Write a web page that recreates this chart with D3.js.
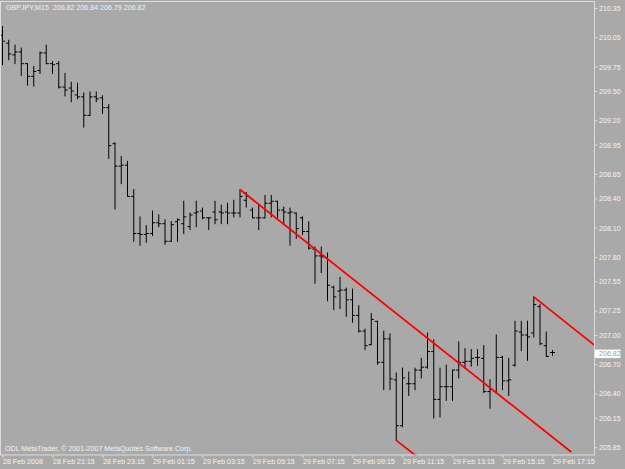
<!DOCTYPE html>
<html><head><meta charset="utf-8">
<script src="https://cdn.jsdelivr.net/npm/d3@7"></script>
<style>
html,body{margin:0;padding:0;background:#a9a9a9;overflow:hidden}
svg{display:block}
text{font-family:"Liberation Sans",Arial,sans-serif;font-size:7.1px}
</style></head><body>
<svg id="c" width="625" height="469"></svg>
<script>
// ---- data ----
const symbol = "GBPJPY,M15";
const headerOHLC = ["206.82", "206.84", "206.79", "206.82"];
const copyright = "ODL MetaTrader, © 2001-2007 MetaQuotes Software Corp.";
const firstBarTime = "2008-02-28 19:15";
const barMinutes = 15;

const opens = [210.07,209.99,209.87,209.90,209.78,209.65,209.71,209.89,209.78,209.78,
209.54,209.53,209.46,209.44,209.25,209.44,209.43,209.33,208.96,208.73,
208.74,208.42,208.04,208.03,208.04,208.15,208.14,207.96,208.16,208.14,
208.11,208.25,208.27,208.20,208.26,208.26,208.26,208.25,208.25,208.38,
208.28,208.20,208.20,208.35,208.37,208.28,208.25,208.25,208.20,208.06,
207.88,207.81,207.79,207.49,207.45,207.46,207.36,207.20,207.04,206.90,
207.14,206.72,206.96,206.54,206.07,206.50,206.50,206.64,206.67,206.83,
206.34,206.47,206.47,206.64,206.72,206.73,206.77,206.76,206.42,206.42,
206.77,206.53,206.69,207.03,207.00,207.02,207.29,206.89,206.82];
const highs = [210.16,210.02,209.97,209.94,209.78,209.75,209.90,209.97,209.80,209.80,
209.68,209.59,209.58,209.48,209.49,209.49,209.45,209.36,208.97,208.83,
208.78,208.49,208.21,208.12,208.27,208.23,208.18,208.16,208.19,208.37,
208.25,208.37,208.30,208.20,208.37,208.33,208.35,208.38,208.49,208.46,
208.30,208.33,208.43,208.43,208.37,208.31,208.30,208.25,208.21,208.16,
207.90,207.90,207.84,207.50,207.59,207.48,207.47,207.30,207.06,207.22,
207.14,207.04,207.01,206.61,206.66,206.62,206.66,206.76,207.02,206.95,
206.66,206.69,206.64,206.93,206.86,206.85,206.85,206.89,206.54,207.00,
206.78,206.76,207.14,207.14,207.14,207.39,207.31,207.03,206.84];
const lows = [209.77,209.82,209.78,209.66,209.56,209.55,209.68,209.78,209.68,209.53,
209.45,209.39,209.42,209.13,209.25,209.39,209.27,208.81,208.29,208.55,
208.42,207.96,207.92,207.95,208.02,208.11,207.93,207.96,207.96,208.04,
208.08,208.11,208.19,208.08,208.14,208.14,208.14,208.21,208.21,208.31,
208.20,208.08,208.20,208.21,208.20,208.13,207.92,207.99,208.03,207.88,
207.53,207.64,207.35,207.26,207.27,207.19,207.13,207.03,206.85,206.90,
206.70,206.44,206.44,205.92,206.06,206.38,206.44,206.56,206.66,206.15,
206.16,206.33,206.33,206.56,206.66,206.68,206.69,206.41,206.25,206.40,
206.44,206.38,206.68,206.84,206.74,206.98,206.90,206.78,206.79];
const closes = [210.01,209.88,209.90,209.78,209.65,209.70,209.89,209.78,209.77,209.54,
209.51,209.50,209.44,209.25,209.44,209.42,209.33,208.94,208.73,208.74,
208.42,208.04,208.03,208.04,208.15,208.14,207.96,208.13,208.18,208.21,
208.23,208.26,208.20,208.20,208.18,208.25,208.25,208.25,208.42,208.42,
208.20,208.20,208.35,208.37,208.28,208.26,208.26,208.09,208.06,207.89,
207.81,207.80,207.51,207.39,207.46,207.36,207.20,207.04,206.89,207.16,
206.72,206.96,206.55,206.07,206.56,206.50,206.64,206.67,206.83,206.34,
206.47,206.47,206.64,206.72,206.73,206.76,206.77,206.42,206.44,206.77,
206.53,206.54,207.04,207.00,206.98,207.31,206.91,206.78,206.82];

const priceTickLabels = ["210.35","210.05","209.75","209.50","209.20","208.95","208.65","208.40",
"208.10","207.80","207.55","207.25","207.00","206.70","206.40","206.15","205.85"];
const timeTickBars = [0,8,16,24,32,40,48,56,64,72,80,88];
const timeTickLabels = ["28 Feb 2008","28 Feb 21:15","28 Feb 23:15","29 Feb 01:15","29 Feb 03:15",
"29 Feb 05:15","29 Feb 07:15","29 Feb 09:15","29 Feb 11:15","29 Feb 13:15","29 Feb 15:15","29 Feb 17:15"];
const currentPrice = 206.82;

// channel lines: [time, price] end points
const lineStarts = [["2008-02-29 04:45",208.49],["2008-02-29 11:00",205.92],["2008-02-29 16:30",207.39]];
const lineEnds   = [["2008-02-29 18:00",205.80],["2008-02-29 12:15",205.67],["2008-02-29 19:00",206.88]];

// ---- drawing ----
const W = 625, H = 469;
const plot = {left:0.5, top:1.5, right:594.5, bottom:455.5};
const bg = "#a9a9a9", fg = "#f4f4f4", frameCol = "#dcdcdc";
const parse = d3.timeParse("%Y-%m-%d %H:%M");
const t0 = parse(firstBarTime);
const times = opens.map((_,i)=>d3.timeMinute.offset(t0, barMinutes*i));
const bars = times.map((t,i)=>({t, o:opens[i], h:highs[i], l:lows[i], c:closes[i]}));

const x = d3.scaleTime().domain([times[0], times[times.length-1]]).range([2.5, 552.5]);
const y = d3.scaleLinear().domain([205.77, 210.417]).range([455, 1.5]);

const svg = d3.select("#c");
svg.append("rect").attr("width",W).attr("height",H).attr("fill",bg);

svg.append("defs").append("clipPath").attr("id","clip").append("rect")
  .attr("x",plot.left).attr("y",plot.top)
  .attr("width",plot.right-plot.left).attr("height",plot.bottom-plot.top);

const g = svg.append("g").attr("clip-path","url(#clip)");

// OHLC bars
const bg2 = g.append("g").attr("stroke","#000").attr("stroke-width",1).attr("fill","none");
bg2.selectAll("path.bar").data(bars).join("path").attr("class","bar")
  .attr("d", d => {
    const xx = x(d.t);
    return `M${xx},${y(d.h)-0.5}V${y(d.l)+0.5}` +
           `M${xx-2.6},${y(d.o)}H${xx}` +
           `M${xx},${y(d.c)}H${xx+2.6}`;
  });

// channel lines
const lines = lineStarts.map((s,i)=>[[parse(s[0]),s[1]],[parse(lineEnds[i][0]),lineEnds[i][1]]]);
g.selectAll("line.ch").data(lines).join("line").attr("class","ch")
  .attr("x1",d=>x(d[0][0])).attr("y1",d=>y(d[0][1]))
  .attr("x2",d=>x(d[1][0])).attr("y2",d=>y(d[1][1]))
  .attr("stroke","#ff0000").attr("stroke-width",1.8);

// frame
svg.append("rect").attr("x",plot.left).attr("y",plot.top)
  .attr("width",plot.right-plot.left).attr("height",plot.bottom-plot.top-0.5)
  .attr("fill","none").attr("stroke",frameCol).attr("stroke-width",1);

// y axis (right)
const yTickVals = priceTickLabels.map(Number);
const yAxis = d3.axisRight(y).tickValues(yTickVals).tickSize(3).tickPadding(2)
  .tickFormat((d,i)=>priceTickLabels[i]);
const ya = svg.append("g").attr("transform",`translate(${plot.right},0)`).call(yAxis);
ya.select(".domain").remove();
ya.attr("font-size",null).attr("font-family",null);
ya.selectAll(".tick line").attr("stroke",frameCol);
ya.selectAll(".tick text").style("fill",fg).attr("dy","0.34em").attr("x",4.5);

// current price label
const cy = y(currentPrice);
svg.append("rect").attr("x",594.5).attr("y",cy-3).attr("width",26).attr("height",8.5)
  .attr("fill","#ffffff").attr("stroke","#c8c8c8").attr("stroke-width",0.5);
svg.append("text").attr("x",599).attr("y",cy+1.2).attr("dy","0.34em")
  .style("fill","#9a9a9a").text(currentPrice.toFixed(2));

// x axis (bottom)
const xAxis = d3.axisBottom(x).tickValues(timeTickBars.map(i=>times[i])).tickSize(3).tickPadding(1)
  .tickFormat((d,i)=>timeTickLabels[i]);
const xa = svg.append("g").attr("transform",`translate(0,${plot.bottom-0.5})`).call(xAxis);
xa.select(".domain").remove();
xa.attr("font-size",null).attr("font-family",null);
xa.selectAll(".tick line").attr("stroke",frameCol);
xa.selectAll(".tick text").style("fill",fg)
  .attr("text-anchor","start").attr("dy","0.71em").attr("y",4);

// header and copyright
svg.append("text").attr("x",6).attr("y",10).attr("xml:space","preserve").style("fill",fg)
  .text(symbol + "  " + headerOHLC.join(" "));
svg.append("text").attr("x",5).attr("y",451).style("fill",fg).text(copyright);
</script>
</body></html>
